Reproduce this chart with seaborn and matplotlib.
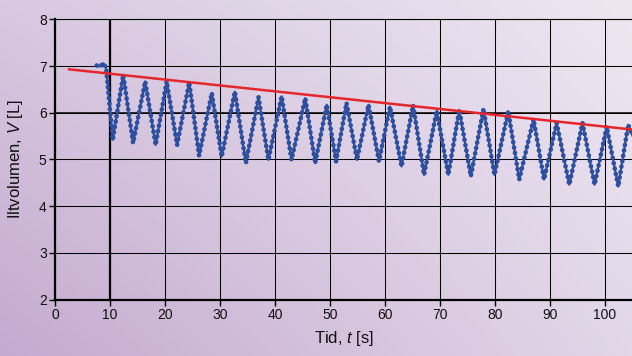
import numpy as np
import pandas as pd
import matplotlib
matplotlib.use("Agg")
import matplotlib.pyplot as plt
import seaborn as sns

# values (extremes of the breathing curve)
vol_t = [7.6, 8.2, 8.8, 9.3, 10.5, 12.4, 14.2, 16.4, 18.3, 20.3, 22.2, 24.4, 26.2,
         28.5, 30.3, 32.7, 34.7, 37.0, 38.8, 41.2, 43.0, 45.5, 47.3, 49.4, 51.1,
         53.0, 54.9, 57.0, 58.9, 60.9, 63.0, 65.1, 67.1, 69.4, 71.5, 73.5, 75.6,
         77.9, 79.9, 82.4, 84.4, 87.0, 88.9, 91.2, 93.5, 95.9, 98.1, 100.3, 102.4,
         104.2, 105.0]
vol_v = [7.01, 6.99, 7.06, 6.95, 5.42, 6.81, 5.35, 6.67, 5.31, 6.67, 5.31, 6.65, 5.08,
         6.42, 5.06, 6.45, 4.92, 6.33, 4.99, 6.35, 4.99, 6.31, 4.92, 6.17, 4.96,
         6.21, 4.99, 6.17, 4.96, 6.13, 4.85, 6.16, 4.67, 6.04, 4.67, 6.06, 4.64,
         6.08, 4.67, 6.03, 4.57, 5.86, 4.57, 5.78, 4.46, 5.78, 4.46, 5.70, 4.42,
         5.74, 5.50]
trend_t = [2.5, 104.9]
trend_v = [6.93, 5.64]
x_ticks = [0, 10, 20, 30, 40, 50, 60, 70, 80, 90, 100]
y_ticks = [2, 3, 4, 5, 6, 7, 8]

sns.set_theme(style="white")
plt.rcParams['font.family'] = ['Liberation Sans', 'DejaVu Sans']
plt.rcParams['mathtext.fontset'] = 'custom'
plt.rcParams['mathtext.rm'] = 'Liberation Sans'
plt.rcParams['mathtext.it'] = 'Liberation Sans:italic'

df = pd.DataFrame({"t": vol_t, "v": vol_v})
trend = pd.DataFrame({"t": trend_t, "v": trend_v})

fig = plt.figure(figsize=(6.32, 3.56), dpi=100)

# lilac gradient background
bg = fig.add_axes([0, 0, 1, 1], zorder=-10)
c_bl = np.array([196, 170, 207]) / 255
c_tl = np.array([216, 200, 224]) / 255
c_br = np.array([226, 214, 232]) / 255
c_tr = np.array([238, 231, 242]) / 255
gx, gy = np.meshgrid(np.linspace(0, 1, 200), np.linspace(1, 0, 120))
img = ((1 - gx)[..., None] * ((1 - gy)[..., None] * c_bl + gy[..., None] * c_tl)
       + gx[..., None] * ((1 - gy)[..., None] * c_br + gy[..., None] * c_tr))
bg.imshow(img, aspect="auto", extent=[0, 1, 0, 1])
bg.axis("off")

ax = fig.add_axes([55 / 632, 56.5 / 356, 577 / 632, 280.2 / 356])
ax.set_facecolor("none")

blue = "#2D4F9F"
sns.lineplot(data=df, x="t", y="v", ax=ax, color=blue, lw=1.6, sort=False,
             estimator=None, zorder=3, solid_joinstyle="round")
sns.lineplot(data=df, x="t", y="v", ax=ax, color=blue, lw=3.4, sort=False,
             estimator=None, zorder=3, linestyle=(0, (0.01, 1.15)),
             dash_capstyle="round")
sns.lineplot(data=trend, x="t", y="v", ax=ax, color="#E5262B", lw=1.8,
             sort=False, estimator=None, zorder=4)

ax.set_xlim(0, 104.9)
ax.set_ylim(2, 8)
ax.set_xticks(x_ticks)
ax.set_yticks(y_ticks)
ax.grid(True, color="black", lw=0.75)
ax.axvline(10, color="black", lw=1.6, zorder=2)
ax.axhline(6, color="black", lw=1.1, zorder=2)

for s in ["left", "bottom"]:
    ax.spines[s].set_color("black")
    ax.spines[s].set_linewidth(1.6)
ax.spines["top"].set_color("black")
ax.spines["top"].set_linewidth(0.8)
ax.spines["right"].set_visible(False)

ax.tick_params(axis="both", which="major", direction="out", length=4, width=1,
               color="black", labelsize=10, labelcolor="#111111", pad=2,
               left=True, bottom=True)
ax.set_xlabel("Tid, $t$ [s]", fontsize=12, color="#111111", labelpad=5)
ax.set_ylabel("Iltvolumen, $V$ [L]", fontsize=12, color="#111111", labelpad=10)

fig.savefig("out.png", dpi=100)
